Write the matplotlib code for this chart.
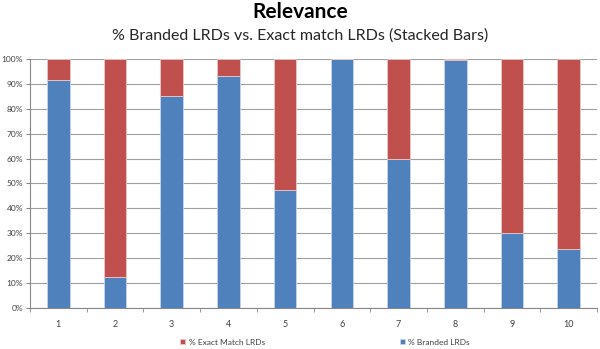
import matplotlib
matplotlib.use("Agg")
import matplotlib.pyplot as plt
from matplotlib.ticker import PercentFormatter

# data
positions = [1, 2, 3, 4, 5, 6, 7, 8, 9, 10]
branded = [91.7, 12.5, 85.3, 93.2, 47.5, 99.8, 59.7, 99.4, 30.0, 23.7]
exact = [100 - b for b in branded]

blue = "#4F81BD"
red = "#C0504D"

plt.rcParams['font.family'] = ['Lato', 'DejaVu Sans']

fig = plt.figure(figsize=(6.0, 3.49), dpi=100)
ax = fig.add_axes([0.05, 0.1175, 0.945, 0.7135])

b1 = ax.bar(positions, branded, width=0.4, color=blue, edgecolor="#c9d6ea",
            linewidth=0.6, label="% Branded LRDs", zorder=3)
b2 = ax.bar(positions, exact, width=0.4, bottom=branded, color=red,
            edgecolor="#ecc9c8", linewidth=0.6, label="% Exact Match LRDs", zorder=3)

#axes
ax.set_xlim(0.5, 10.5)
ax.set_ylim(0, 100)
ax.set_yticks(range(0, 101, 10))
ax.yaxis.set_major_formatter(PercentFormatter(decimals=0))
ax.set_xticks(positions)
ax.set_xticks([p + 0.5 for p in [0] + positions], minor=True)
ax.tick_params(axis='x', which='major', length=0, labelsize=6.5, pad=9, colors="#404040")
ax.tick_params(axis='x', which='minor', length=3, color="#888888")
ax.tick_params(axis='y', length=3, color="#888888", labelsize=6, colors="#404040", pad=2)
ax.yaxis.grid(True, color="#a0a0a0", linewidth=0.8, zorder=0)
for side in ['top', 'right']:
    ax.spines[side].set_visible(False)
ax.spines['left'].set_color("#888888")
ax.spines['bottom'].set_color("#888888")

#titles
fig.text(0.5, 0.965, "Relevance", ha='center', va='center', fontsize=15, fontweight='bold')
fig.text(0.5, 0.897, "% Branded LRDs vs. Exact match LRDs (Stacked Bars)", ha='center',
         va='center', fontsize=11.5, color="#262626")

#legend
lgd = fig.legend([b2, b1], ["% Exact Match LRDs", "% Branded LRDs"], loc='center',
                 bbox_to_anchor=(0.542, 0.02), ncol=2, frameon=False, fontsize=6,
                 handlelength=0.6, handleheight=0.6, handletextpad=0.4, columnspacing=16.2,
                 labelcolor="#404040")

plt.savefig("out.png", dpi=100)
